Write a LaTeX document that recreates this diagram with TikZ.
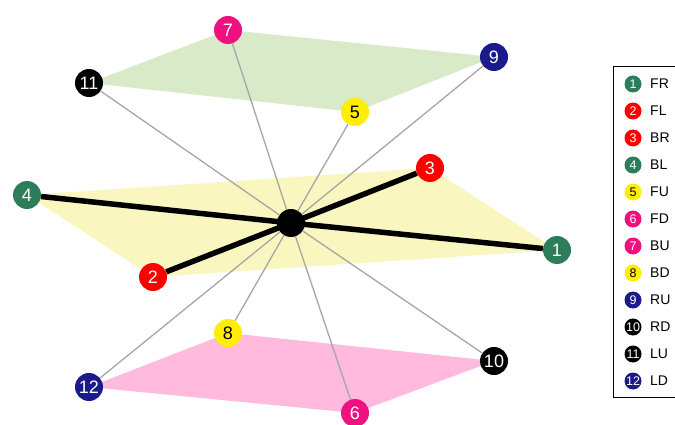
\documentclass[tikz,border=0pt]{standalone}
\usepackage{fontspec}
\setmainfont{Liberation Sans}
\usetikzlibrary{backgrounds}
\definecolor{cgreen}{RGB}{46,125,90}
\definecolor{cred}{RGB}{255,0,0}
\definecolor{cyellow}{RGB}{255,238,0}
\definecolor{cpink}{RGB}{240,16,128}
\definecolor{cnavy}{RGB}{26,26,138}
\definecolor{pyellow}{RGB}{250,246,192}
\definecolor{pgreen}{RGB}{216,234,199}
\definecolor{ppink}{RGB}{255,186,221}
\definecolor{lgray}{RGB}{166,166,166}
\tikzset{
  ball/.style={circle, minimum size=28pt, inner sep=0pt, font=\fontsize{18}{18}\selectfont},
  lball/.style={circle, minimum size=17pt, inner sep=0pt, font=\fontsize{12.5}{12.5}\selectfont},
  ltext/.style={anchor=west, inner sep=0pt, font=\fontsize{14}{14}\selectfont},
  strong/.style={line width=5.5pt, black},
  thin/.style={line width=1.3pt, lgray},
}
\begin{document}
\begin{tikzpicture}[x=1pt,y=-1pt]
\useasboundingbox (0,0) rectangle (675,425);
\node[ball, fill=black] (c) at (291,223) {};
\node[ball, fill=cgreen, text=white] (n1) at (557,250) {1};
\node[ball, fill=cred, text=white] (n2) at (153,277) {2};
\node[ball, fill=cred, text=white] (n3) at (430,168) {3};
\node[ball, fill=cgreen, text=white] (n4) at (27,195) {4};
\node[ball, fill=cyellow, text=black] (n5) at (355,112) {5};
\node[ball, fill=cpink, text=white] (n6) at (355,413) {6};
\node[ball, fill=cpink, text=white] (n7) at (228,30) {7};
\node[ball, fill=cyellow, text=black] (n8) at (228,333) {8};
\node[ball, fill=cnavy, text=white] (n9) at (494,57) {9};
\node[ball, fill=black, text=white] (n10) at (494,361) {10};
\node[ball, fill=black, text=white] (n11) at (89,83) {11};
\node[ball, fill=cnavy, text=white] (n12) at (89,387) {12};
\begin{scope}[on background layer]
  \fill[pyellow] (n4.center) -- (n3.center) -- (n1.center) -- (n2.center) -- cycle;
  \fill[pgreen] (n11.center) -- (n7.center) -- (n9.center) -- (n5.center) -- cycle;
  \fill[ppink] (n12.center) -- (n8.center) -- (n10.center) -- (n6.center) -- cycle;
  \foreach \k in {5,6,7,8,9,10,11,12} \draw[thin] (c) -- (n\k);
  \foreach \k in {1,2,3,4} \draw[strong] (c.center) -- (n\k);
\end{scope}
% legend
\draw[line width=1pt, black] (613,67) rectangle (690,397);
\foreach \i/\lab/\col/\tc [count=\j from 0] in {1/FR/cgreen/white, 2/FL/cred/white, 3/BR/cred/white, 4/BL/cgreen/white, 5/FU/cyellow/black, 6/FD/cpink/white, 7/BU/cpink/white, 8/BD/cyellow/black, 9/RU/cnavy/white, 10/RD/black/white, 11/LU/black/white, 12/LD/cnavy/white} {
  \node[lball, fill=\col, text=\tc] (l\i) at (633,{84+27*\j}) {\i};
  \node[ltext] (t\i) at (650,{84+27*\j}) {\lab};
}
\end{tikzpicture}
\end{document}
